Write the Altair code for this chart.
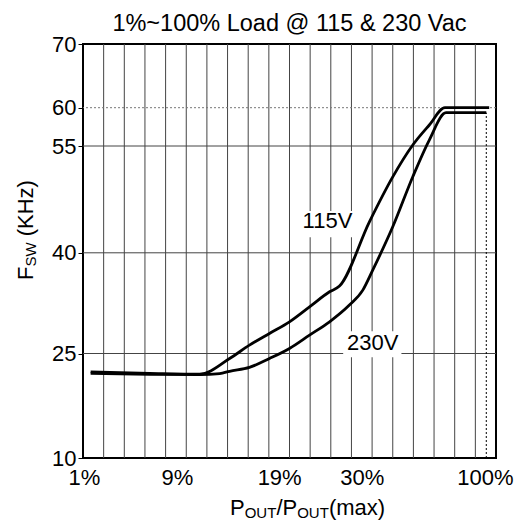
import json
import altair as alt
import pandas as pd

# ---- data (x is the position on the 20-step load grid of the chart) ----
x_115 = [0.37, 3.23, 5.65, 7.10, 8.06, 9.03, 10.0, 10.97, 11.94, 12.42, 13.87, 15.0, 15.97, 16.77, 17.53, 19.67]
y_115 = [22.35, 22.15, 22.03, 24.28, 26.24, 27.99, 29.72, 31.95, 34.19, 35.04, 44.35, 50.66, 55.13, 57.74, 60.0, 60.0]

x_230 = [0.37, 3.23, 5.65, 6.62, 7.10, 8.06, 9.03, 10.0, 10.97, 11.94, 12.90, 13.55, 14.03, 15.0, 15.97, 16.77, 17.58, 19.53]
y_230 = [22.15, 22.0, 21.97, 22.12, 22.45, 23.0, 24.28, 25.75, 27.73, 29.72, 32.21, 34.44, 37.42, 43.65, 50.68, 55.78, 59.35, 59.35]

series = ["115V", "230V"]

x_tick_pos = [0, 4.5, 9.45, 13.45, 20]
x_tick_text = ["1%", "9%", "19%", "30%", "100%"]
y_ticks = [10, 25, 40, 55, 60, 70]
y_tick_px = [414, 309.5, 208.8, 102, 63.7, 0]   # piecewise scale of the original drawing

grid_x = list(range(1, 20))
grid_y_solid = [25, 40, 55]
grid_y_dotted = [60]
max_x = [19.53]
max_y = [59.35]

label_text = ["115V", "230V"]
label_x = [11.84, 14.03]
label_y = [44.45, 26.54]
box_x = [10.53, 12.6]
box_x2 = [13.14, 15.42]
box_y = [42.2, 24.47]
box_y2 = [45.86, 28.33]

title_text = "1%~100% Load @ 115 & 230 Vac"

FONT = "Liberation Sans"
W, H = 413, 414

# ---- tables ----
curves = pd.DataFrame({
    "x": x_115 + x_230,
    "y": y_115 + y_230,
    "s": [series[0]] * len(x_115) + [series[1]] * len(x_230),
})
gx = pd.DataFrame({"gx": grid_x})
gy = pd.DataFrame({"gy": grid_y_solid})
gyd = pd.DataFrame({"gy": grid_y_dotted})
mx = pd.DataFrame({"mx": max_x, "my": max_y, "y0": [y_ticks[0]]})
lab = pd.DataFrame({"t": label_text, "lx": label_x, "ly": label_y,
                    "bx": box_x, "bx2": box_x2, "by": box_y, "by2": box_y2})

xs = alt.Scale(domain=[0, 20], nice=False, zero=False)
ys = alt.Scale(domain=y_ticks, range=y_tick_px, nice=False, zero=False)

label_expr = "{}[indexof({}, datum.value)]".format(json.dumps(x_tick_text), json.dumps(x_tick_pos))
last_x = x_tick_pos[-1]
x_axis = alt.Axis(values=x_tick_pos, labelExpr=label_expr, grid=False, ticks=False, domain=False,
                  title=None, labelFont=FONT, labelFontSize=22, labelColor="black", labelPadding=9,
                  labelFlush=False, labelOverlap=False, labelBound=False,
                  labelOffset={"condition": {"test": f"datum.value == {last_x}", "value": -11}, "value": 1})
y_axis = alt.Axis(values=y_ticks, grid=False, domain=False, ticks=True, tickSize=5, tickColor="black",
                  title=None, labelFont=FONT, labelFontSize=22, labelColor="black", labelPadding=2,
                  labelOverlap=False, labelFlush=False)


def X(field):
    return alt.X(field, scale=xs, axis=x_axis, title=None)


def Y(field):
    return alt.Y(field, scale=ys, axis=y_axis, title=None)


vgrid = alt.Chart(gx).mark_rule(color="#444", strokeWidth=1).encode(x=X("gx:Q"))
hgrid = alt.Chart(gy).mark_rule(color="#444", strokeWidth=1).encode(y=Y("gy:Q"))
hdot = alt.Chart(gyd).mark_rule(color="#777", strokeWidth=1, strokeDash=[2, 2]).encode(y=Y("gy:Q"))
vdot = alt.Chart(mx).mark_rule(color="black", strokeWidth=1, strokeDash=[2, 2]).encode(
    x=X("mx:Q"), y=Y("y0:Q"), y2="my:Q")
boxes = alt.Chart(lab).mark_rect(color="white").encode(
    x=X("bx:Q"), x2="bx2:Q", y=Y("by:Q"), y2="by2:Q")
lines = alt.Chart(curves).mark_line(color="black", strokeWidth=2.8, interpolate="monotone").encode(
    x=X("x:Q"), y=Y("y:Q"), detail="s:N")
labels = alt.Chart(lab).mark_text(font=FONT, fontSize=22, color="black", align="center",
                                  baseline="middle").encode(
    x=X("lx:Q"), y=Y("ly:Q"), text="t:N")


def txt(t, x, y, size, angle=0, align="left"):
    return alt.Chart(pd.DataFrame({"t": [t]})).mark_text(
        font=FONT, fontSize=size, color="black", align=align, baseline="alphabetic", angle=angle
    ).encode(x=alt.value(x), y=alt.value(y), text="t:N")


title = txt(title_text, W / 2, -13, 23.5, align="center")

# y-axis title  F_SW (KHz), rotated
yt = [txt("F", -50, 236, 22, 270), txt("SW", -47, 222.6, 15, 270), txt("(KHz)", -50, 192.3, 22, 270)]
# x-axis title  P_OUT/P_OUT(max)
xt = [txt("P", 147, 471, 22), txt("OUT", 161.7, 473.5, 15), txt("/P", 193.4, 471, 22),
      txt("OUT", 214.2, 473.5, 15), txt("(max)", 245.9, 471, 22)]

chart = alt.layer(vgrid, hgrid, hdot, vdot, boxes, lines, labels, title, *yt, *xt).properties(
    width=W, height=H,
    autosize=alt.AutoSizeParams(type="none"),
    padding={"left": 75, "top": 36, "right": 18, "bottom": 63},
    background="white",
).configure_view(stroke="black", strokeWidth=2)

chart.save("out.html", embed_options={"renderer": "svg", "actions": False})
